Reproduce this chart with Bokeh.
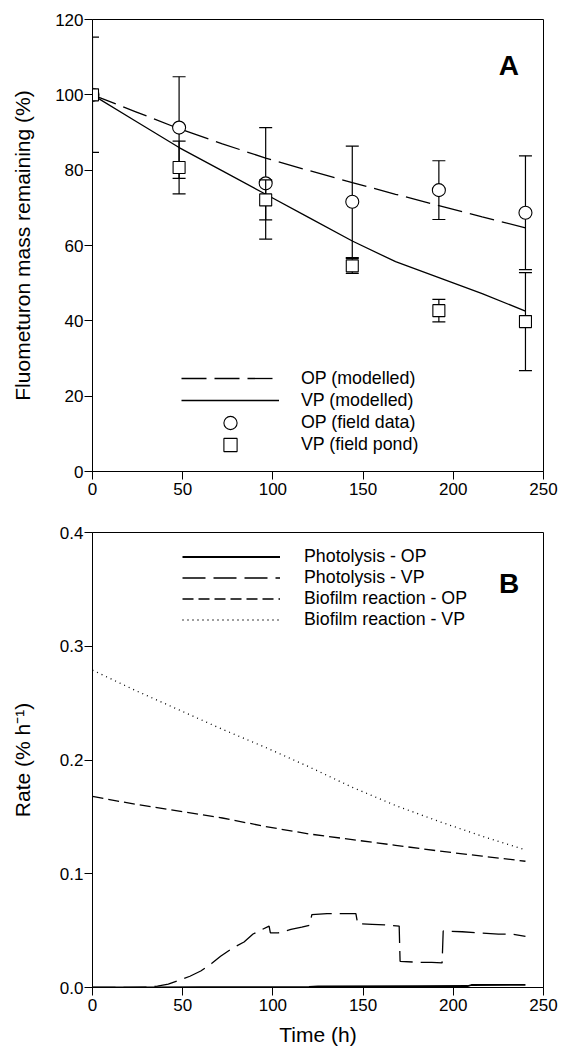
from bokeh.plotting import figure
from bokeh.models import (Legend, LegendItem, Label, FixedTicker,
                          NumeralTickFormatter, Range1d)
from bokeh.layouts import column
from bokeh.embed import file_html
from bokeh.resources import INLINE

FONT = "Liberation Sans"

# ---------------- Panel A data ----------------
x_ticks = [0, 50, 100, 150, 200, 250]
a_y_ticks = [0, 20, 40, 60, 80, 100, 120]

time_field = [0, 48, 96, 144, 192, 240]
op_field = [100, 91.3, 76.5, 71.6, 74.7, 68.7]
op_field_sd = [15.3, 13.5, 14.8, 14.8, 7.8, 15.1]
vp_field = [100, 80.7, 72.1, 54.6, 42.7, 39.8]
vp_field_sd = [0, 7.0, 5.3, 2.0, 3.0, 13.0]

time_model = [0, 24, 48, 72, 96, 120, 144, 168, 192, 216, 240]
op_model = [100, 95.5, 91.0, 87.0, 83.2, 79.9, 76.7, 73.6, 70.6, 67.6, 64.7]
vp_model = [100, 93.0, 86.0, 79.8, 73.6, 67.4, 61.2, 55.7, 51.5, 47.2, 42.6]

# ---------------- Panel B data ----------------
b_y_ticks = [0.0, 0.1, 0.2, 0.3, 0.4]

time_rate = [0, 24, 48, 72, 96, 120, 144, 168, 192, 216, 240]
bio_op = [0.168, 0.161, 0.155, 0.149, 0.1415, 0.135, 0.130, 0.125, 0.120, 0.1155, 0.111]
bio_vp = [0.279, 0.261, 0.244, 0.227, 0.211, 0.194, 0.176, 0.160, 0.146, 0.133, 0.121]

time_photo_vp = [0, 20, 30, 36, 42, 49, 54, 60, 66, 71, 77, 84, 89, 94, 97.9, 98.6,
                 103, 110, 116, 120.3, 121.6, 130, 140, 146, 147, 155, 162, 170,
                 170.5, 180, 188, 193.8, 194.4, 205, 215, 225, 232, 240]
photo_vp = [0, 0, 0.0003, 0.0012, 0.003, 0.007, 0.0099, 0.0145, 0.021, 0.0275, 0.034,
            0.040, 0.047, 0.051, 0.054, 0.048, 0.048, 0.051, 0.053, 0.0547, 0.064,
            0.065, 0.065, 0.065, 0.056, 0.0555, 0.055, 0.054, 0.023, 0.0222, 0.022,
            0.0216, 0.0497, 0.049, 0.048, 0.047, 0.047, 0.045]

time_photo_op = [0, 30, 60, 120, 125, 180, 208, 210, 240]
photo_op = [0, 0, 0.0002, 0.0005, 0.001, 0.0012, 0.0013, 0.0022, 0.0023]


def style(p):
    p.grid.grid_line_color = None
    p.outline_line_color = "black"
    p.outline_line_width = 1
    p.background_fill_color = "white"
    p.border_fill_color = "white"
    for ax in (p.xaxis[0], p.yaxis[0]):
        ax.axis_line_color = "black"
        ax.major_tick_line_color = "black"
        ax.major_tick_out = 8
        ax.major_tick_in = 0
        ax.minor_tick_line_color = None
        ax.major_label_text_font = FONT
        ax.major_label_text_font_size = "17px"
        ax.major_label_text_color = "black"
        ax.major_label_text_line_height = 1.0
        ax.axis_label_text_font = FONT
        ax.axis_label_text_font_size = "21px"
        ax.axis_label_text_font_style = "normal"
        ax.axis_label_text_color = "black"
        ax.axis_label_text_line_height = 1.0
    p.xaxis.major_label_standoff = 3
    p.yaxis.major_label_standoff = 1


def legend(items, loc, gh, lh, standoff):
    return Legend(items=items, location=loc, glyph_width=98, glyph_height=gh,
                  label_height=lh, spacing=0, label_standoff=standoff, padding=0,
                  margin=0, border_line_color=None, background_fill_alpha=0,
                  label_text_font=FONT, label_text_font_size="17.8px",
                  label_text_line_height=1.0, label_text_color="black")


# ---------------- Panel A ----------------
pa = figure(width=561, height=501, output_backend="svg", toolbar_location=None,
            x_range=Range1d(0, 250), y_range=Range1d(0, 120),
            min_border_left=89, min_border_right=18, min_border_top=19, min_border_bottom=30)
style(pa)
pa.xaxis.ticker = FixedTicker(ticks=x_ticks)
pa.yaxis.ticker = FixedTicker(ticks=a_y_ticks)
pa.yaxis.axis_label = "Fluometuron mass remaining (%)"
pa.yaxis.axis_label_standoff = 18

r_op_model = pa.line(time_model, op_model, line_color="black", line_width=1.3, line_dash="25 8")
r_vp_model = pa.line(time_model, vp_model, line_color="black", line_width=1.3)


def bars(p, xs, ys, sds):
    x = [a for a, s in zip(xs, sds) if s > 0]
    lo = [b - s for b, s in zip(ys, sds) if s > 0]
    hi = [b + s for b, s in zip(ys, sds) if s > 0]
    p.segment(x0=x, y0=lo, x1=x, y1=hi, line_color="black", line_width=1.2)
    p.scatter(x=x + x, y=lo + hi, marker="dash", size=13, line_color="black", line_width=1.2)


bars(pa, time_field, op_field, op_field_sd)
r_op_field = pa.scatter(time_field, op_field, marker="circle", size=13, fill_color="white",
                        line_color="black", line_width=1.1)
bars(pa, time_field, vp_field, vp_field_sd)
r_vp_field = pa.scatter(time_field, vp_field, marker="square", size=12, fill_color="white",
                        line_color="black", line_width=1.1)

pa.add_layout(legend([
    LegendItem(label="OP (modelled)", renderers=[r_op_model]),
    LegendItem(label="VP (modelled)", renderers=[r_vp_model]),
], (89, 60), 22, 22, 22))
pa.add_layout(legend([LegendItem(label="OP (field data)", renderers=[r_op_field])],
                     (89, 32), 33, 22, 22))
pa.add_layout(legend([LegendItem(label="VP (field pond)", renderers=[r_vp_field])],
                     (89, 10), 33, 22, 22))
pa.add_layout(Label(x=230.8, y=107.7, text="A", text_align="center", text_baseline="alphabetic",
                    text_font=FONT, text_font_style="bold", text_font_size="28px",
                    text_color="black"))

# ---------------- Panel B ----------------
pb = figure(width=561, height=547, output_backend="svg", toolbar_location=None,
            x_range=Range1d(0, 250), y_range=Range1d(0, 0.4),
            min_border_left=92, min_border_right=16, min_border_top=31, min_border_bottom=61)
style(pb)
pb.xaxis.ticker = FixedTicker(ticks=x_ticks)
pb.yaxis.ticker = FixedTicker(ticks=b_y_ticks)
pb.yaxis.formatter = NumeralTickFormatter(format="0.0")
pb.yaxis.axis_label = "Rate (% h\u207b\u00b9)"
pb.yaxis.axis_label_standoff = 23
pb.xaxis.axis_label = "Time (h)"
pb.xaxis.axis_label_standoff = 9

r_ph_op = pb.line(time_photo_op, photo_op, line_color="black", line_width=1.8)
r_ph_vp = pb.line(time_photo_vp, photo_vp, line_color="black", line_width=1.3, line_dash="23 8")
r_bio_op = pb.line(time_rate, bio_op, line_color="black", line_width=1.3, line_dash="11 5")
r_bio_vp = pb.line(time_rate, bio_vp, line_color="black", line_width=1.3, line_dash="1 4")

pb.add_layout(legend([
    LegendItem(label="Photolysis - OP", renderers=[r_ph_op]),
    LegendItem(label="Photolysis - VP", renderers=[r_ph_vp]),
    LegendItem(label="Biofilm reaction - OP", renderers=[r_bio_op]),
    LegendItem(label="Biofilm reaction - VP", renderers=[r_bio_vp]),
], (90, 357), 19, 19, 24))
pb.add_layout(Label(x=231, y=0.3555, text="B", text_align="center", text_baseline="alphabetic",
                    text_font=FONT, text_font_style="bold", text_font_size="28px",
                    text_color="black"))

layout = column(pa, pb)
open("out.html", "w").write(file_html(layout, INLINE))
